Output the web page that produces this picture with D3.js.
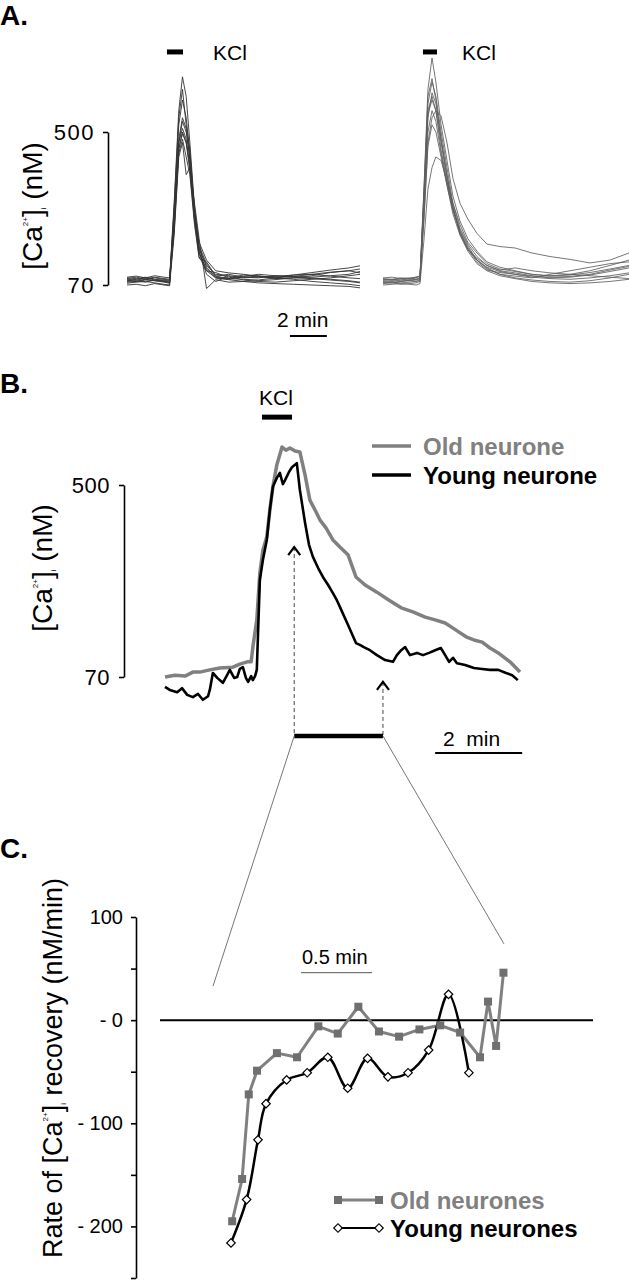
<!DOCTYPE html>
<html><head><meta charset="utf-8">
<script src="https://cdn.jsdelivr.net/npm/d3@7"></script>
<style>body{margin:0;background:#fff}svg{display:block}</style>
</head><body>
<svg id="fig" width="629" height="1280"></svg>
<script>
// ---------------- DATA ----------------
// Panel A: individual neurone traces ([Ca2+]i, nM) vs time (min)
const tA_left = [0, 0.5, 1, 1.5, 2, 2.3, 2.55, 2.8, 3.0, 3.2, 3.4, 3.65, 3.9, 4.3, 4.8, 5.5, 6.3, 7.1, 8, 9, 10, 11, 12, 12.6];
const tracesA_left = [
  [88, 92, 85, 90, 86, 84, 300, 560, 655, 600, 470, 290, 180, 130, 95, 100, 92, 95, 88, 90, 96, 105, 110, 115],
  [82, 86, 90, 84, 80, 82, 280, 520, 590, 540, 440, 280, 170, 125, 100, 96, 90, 92, 94, 98, 100, 95, 90, 88],
  [78, 80, 84, 82, 78, 75, 260, 480, 540, 510, 420, 260, 160, 110, 105, 90, 98, 96, 90, 86, 80, 76, 72, 68],
  [92, 95, 90, 96, 92, 90, 240, 470, 510, 480, 400, 270, 190, 140, 110, 104, 100, 94, 90, 98, 105, 112, 118, 124],
  [75, 78, 80, 76, 72, 70, 230, 450, 500, 470, 390, 250, 150, 110, 90, 85, 80, 82, 85, 90, 88, 84, 80, 76],
  [86, 84, 88, 92, 88, 86, 220, 440, 480, 430, 380, 240, 145, 135, 95, 88, 92, 90, 96, 92, 90, 86, 82, 78],
  [70, 72, 68, 74, 70, 68, 210, 430, 470, 380, 400, 300, 200, 60, 85, 78, 80, 76, 74, 72, 70, 68, 66, 62],
  [90, 88, 92, 86, 84, 80, 250, 470, 530, 500, 430, 270, 175, 120, 92, 88, 86, 84, 90, 94, 100, 106, 110, 104],
  [80, 82, 78, 84, 82, 78, 235, 455, 495, 470, 410, 255, 165, 100, 80, 95, 84, 80, 78, 82, 86, 90, 96, 100],
  [84, 80, 86, 82, 80, 76, 290, 540, 620, 520, 450, 280, 160, 115, 90, 86, 94, 100, 96, 94, 92, 96, 100, 108]
];
const tA_right = [0, 0.49, 0.97, 1.46, 1.78, 2.0, 2.22, 2.43, 2.65, 2.86, 3.14, 3.46, 3.78, 4.16, 4.59, 5.08, 5.62, 6.32, 7.14, 8.05, 9.03, 10.11, 11.19, 12.27, 13.3];
const tracesA_right = [
  [86, 84, 88, 86, 90, 95, 350, 620, 708, 640, 520, 420, 320, 250, 200, 165, 135, 120, 110, 100, 95, 98, 105, 115, 125],
  [80, 82, 80, 84, 86, 90, 330, 580, 640, 600, 500, 400, 300, 230, 185, 150, 125, 110, 104, 96, 90, 92, 98, 108, 118],
  [78, 76, 80, 82, 80, 85, 300, 540, 610, 580, 480, 380, 290, 220, 175, 140, 120, 108, 100, 92, 88, 86, 90, 96, 104],
  [90, 92, 88, 90, 92, 95, 260, 470, 540, 560, 545, 470, 370, 300, 255, 215, 185, 178, 174, 160, 150, 142, 132, 140, 160],
  [74, 76, 72, 74, 76, 80, 310, 550, 590, 560, 450, 360, 280, 215, 170, 140, 118, 100, 90, 84, 80, 78, 82, 90, 100],
  [70, 72, 74, 72, 70, 74, 200, 340, 400, 430, 420, 360, 300, 240, 190, 160, 130, 115, 108, 100, 96, 100, 110, 125, 140],
  [84, 86, 84, 88, 86, 88, 290, 500, 560, 530, 440, 350, 270, 210, 165, 130, 110, 96, 88, 80, 76, 74, 76, 80, 86],
  [88, 86, 90, 88, 92, 94, 320, 560, 600, 560, 470, 370, 285, 220, 170, 145, 125, 112, 118, 110, 104, 100, 96, 92, 88],
  [76, 78, 76, 78, 80, 82, 260, 460, 520, 500, 430, 350, 280, 225, 180, 140, 115, 100, 95, 90, 100, 110, 120, 130, 135],
  [82, 80, 84, 82, 84, 88, 340, 600, 650, 590, 480, 380, 290, 215, 170, 135, 112, 105, 100, 95, 92, 94, 100, 112, 122]
];
const yTicksA = [70, 500];
const kclA_left = [2.16, 3.03], kclA_right = [2.16, 2.92], kclA_level = 725;
const scaleBarA = [8.81, 10.81], scaleBarA_level = -73;

// Panel B: representative old and young neurone
const tB_old = [0, 0.23, 0.46, 0.64, 0.80, 1.03, 1.26, 1.56, 1.72, 1.89, 1.98, 2.02, 2.11, 2.18, 2.25, 2.34, 2.41, 2.48, 2.57, 2.69, 2.78, 2.87, 2.99, 3.10, 3.22, 3.33, 3.47, 3.56, 3.70, 3.86, 4.02, 4.21, 4.39, 4.60, 4.87, 5.15, 5.43, 5.70, 5.98, 6.21, 6.44, 6.69, 6.92, 7.10, 7.29, 7.47, 7.66, 7.93, 8.16];
const caB_old = [70, 74, 72, 81, 81, 86, 90, 92, 99, 104, 104, 137, 198, 303, 354, 384, 444, 496, 545, 585, 578, 583, 576, 574, 522, 466, 440, 422, 404, 377, 361, 343, 294, 276, 260, 242, 225, 216, 204, 198, 191, 175, 160, 153, 148, 135, 124, 104, 81];
const tB_young = [0, 0.11, 0.28, 0.39, 0.51, 0.64, 0.76, 0.87, 0.99, 1.03, 1.10, 1.20, 1.33, 1.43, 1.49, 1.59, 1.66, 1.72, 1.79, 1.86, 1.91, 1.98, 2.02, 2.07, 2.11, 2.18, 2.25, 2.34, 2.41, 2.48, 2.57, 2.64, 2.71, 2.76, 2.85, 2.92, 3.03, 3.10, 3.22, 3.31, 3.40, 3.52, 3.63, 3.75, 3.86, 3.95, 4.02, 4.21, 4.39, 4.48, 4.57, 4.71, 4.87, 5.06, 5.24, 5.33, 5.43, 5.52, 5.63, 5.79, 5.93, 6.07, 6.21, 6.34, 6.44, 6.53, 6.62, 6.71, 6.90, 7.10, 7.29, 7.47, 7.66, 7.84, 7.98, 8.11];
const caB_young = [48, 41, 36, 45, 30, 25, 32, 19, 27, 41, 79, 68, 57, 75, 86, 68, 70, 88, 92, 68, 59, 72, 63, 72, 86, 287, 332, 377, 444, 496, 516, 527, 502, 511, 529, 540, 549, 489, 415, 366, 339, 314, 294, 276, 258, 242, 227, 186, 146, 142, 137, 130, 119, 108, 104, 119, 130, 137, 119, 124, 119, 124, 130, 135, 119, 104, 113, 101, 97, 90, 88, 86, 86, 79, 74, 63];
const yTicksB = [70, 500];
const kclB = [2.23, 2.92], kclB_level = 652;
const arrowTimesB = [2.97, 5.01], arrowLevelsB = [361, 59];
const recoveryBarB = [2.97, 5.01], recoveryBarLevel = -62;
const scaleBarB = [6.21, 8.21], scaleBarB_level = -100;

// Panel C: rate of recovery (nM/min) vs time (s)
const tC_old = [0.5, 4.7, 7.5, 11.0, 19.4, 27.9, 36.9, 45.1, 53.8, 62.5, 71.0, 79.6, 88.4, 96.8, 105.2, 108.6, 112.0, 115.1];
const rateC_old = [-195, -154, -72, -49, -32, -36, -6, -13, 13, -11, -16, -9, -5, -12, -36, 18, -25, 46];
const tC_young = [0, 6.6, 11.4, 14.8, 23.5, 32.2, 40.9, 49.3, 57.7, 66.3, 74.8, 83.5, 91.9, 100.5];
const rateC_young = [-216, -174, -116, -81, -58, -51, -36, -66, -37, -55, -51, -29, 25, -51];
const yTicksC = [100, 50, 0, -50, -100, -150, -200, -250];
const scaleBarC = [29.6, 59.6], scaleBarC_level = 46;
const zoomTargetsC = [[-7.6, 33], [115.3, 74]];

// ---------------- DRAWING ----------------
const FONT = "'Liberation Sans', Arial, Helvetica, sans-serif";
const svg = d3.select("#fig").style("font-family", FONT);
svg.append("rect").attr("width", 629).attr("height", 1280).attr("fill", "#fff");

const GRAY = "#808080";

function caTitle(x, y, fs, after, prefix) {
  const t = svg.append("text")
    .attr("transform", `translate(${x},${y}) rotate(-90)`)
    .attr("text-anchor", "middle")
    .attr("font-size", fs).attr("fill", "#000");
  t.append("tspan").text((prefix || "") + "[Ca");
  t.append("tspan").attr("font-size", 8).attr("dy", -14).text("2+");
  t.append("tspan").attr("dy", 14).text("]");
  t.append("tspan").attr("font-size", 8).attr("dy", 4).text("i");
  t.append("tspan").attr("dy", -4).text(after);
}

function label(x, y, txt, fs, opts = {}) {
  return svg.append("text").attr("x", x).attr("y", y)
    .attr("font-size", fs).attr("font-weight", opts.bold ? "bold" : "normal")
    .attr("fill", opts.fill || "#000").attr("text-anchor", opts.anchor || "start")
    .text(txt);
}

function styleAxis(g, fs, ls) {
  g.select(".domain").attr("stroke", "#000").attr("stroke-width", 1.6);
  g.selectAll(".tick line").attr("stroke", "#000").attr("stroke-width", 1.6);
  g.selectAll(".tick text").attr("font-size", fs).attr("font-family", FONT).attr("fill", "#000")
    .attr("letter-spacing", ls || 0);
}

// ===== Panel A =====
label(0, 25, "A.", 28, { bold: true });
const xAL = d3.scaleLinear([0, 12.6], [127, 360]);
const xAR = d3.scaleLinear([0, 13.3], [383, 629]);
const yA = d3.scaleLinear([70, 500], [285, 132]);

const gAy = svg.append("g").attr("transform", `translate(108,0)`)
  .call(d3.axisLeft(yA).tickValues(yTicksA).tickSize(5).tickSizeOuter(0).tickPadding(8));
styleAxis(gAy, 22, 1.5);
caTitle(42, 206, 28, " (nM)");

const lineAL = d3.line().x((d, i) => xAL(tA_left[i])).y(d => yA(d)).curve(d3.curveLinear);
const lineAR = d3.line().x((d, i) => xAR(tA_right[i])).y(d => yA(d)).curve(d3.curveLinear);
svg.append("g").selectAll("path").data(tracesA_left).join("path")
  .attr("d", lineAL).attr("fill", "none").attr("stroke", "#333").attr("stroke-width", 0.9);
svg.append("g").selectAll("path").data(tracesA_right).join("path")
  .attr("d", lineAR).attr("fill", "none").attr("stroke", "#5e5e5e").attr("stroke-width", 0.85);

// KCl bars
svg.append("line").attr("x1", xAL(kclA_left[0])).attr("x2", xAL(kclA_left[1]))
  .attr("y1", yA(kclA_level)).attr("y2", yA(kclA_level)).attr("stroke", "#000").attr("stroke-width", 5);
svg.append("line").attr("x1", xAR(kclA_right[0])).attr("x2", xAR(kclA_right[1]))
  .attr("y1", yA(kclA_level)).attr("y2", yA(kclA_level)).attr("stroke", "#000").attr("stroke-width", 5);
label(213, 59.5, "KCl", 21);
label(462, 59.5, "KCl", 21);
// 2 min scale
svg.append("line").attr("x1", xAL(scaleBarA[0])).attr("x2", xAL(scaleBarA[1]))
  .attr("y1", yA(scaleBarA_level)).attr("y2", yA(scaleBarA_level)).attr("stroke", "#000").attr("stroke-width", 2);
label(277, 327, "2 min", 21);

// ===== Panel B =====
label(0, 393, "B.", 28, { bold: true });
const xB = d3.scaleLinear([0, 8.16], [165, 520]);
const yB = d3.scaleLinear([70, 500], [677, 485]);
const gBy = svg.append("g").attr("transform", `translate(124,0)`)
  .call(d3.axisLeft(yB).tickValues(yTicksB).tickSize(5).tickSizeOuter(0).tickPadding(9));
styleAxis(gBy, 22, 0.5);
caTitle(52, 568, 28, " (nM)");

const lineBold = d3.line().x((d, i) => xB(tB_old[i])).y(d => yB(d));
const lineByoung = d3.line().x((d, i) => xB(tB_young[i])).y(d => yB(d));
svg.append("path").datum(caB_old).attr("d", lineBold).attr("fill", "none")
  .attr("stroke", GRAY).attr("stroke-width", 3.5).attr("stroke-linejoin", "round");
svg.append("path").datum(caB_young).attr("d", lineByoung).attr("fill", "none")
  .attr("stroke", "#000").attr("stroke-width", 2.6).attr("stroke-linejoin", "round");

// KCl
svg.append("line").attr("x1", xB(kclB[0])).attr("x2", xB(kclB[1]))
  .attr("y1", yB(kclB_level)).attr("y2", yB(kclB_level)).attr("stroke", "#000").attr("stroke-width", 5);
label(259, 405, "KCl", 21);

// Legend B
svg.append("line").attr("x1", 372).attr("x2", 411).attr("y1", 446).attr("y2", 446).attr("stroke", GRAY).attr("stroke-width", 3.5);
svg.append("line").attr("x1", 372).attr("x2", 411).attr("y1", 475).attr("y2", 475).attr("stroke", "#000").attr("stroke-width", 3.5);
label(423, 454.5, "Old neurone", 24, { bold: true, fill: GRAY });
label(423, 483.5, "Young neurone", 24, { bold: true });

// arrows + dashed lines
arrowTimesB.forEach((t, i) => {
  const x = xB(t), yTop = yB(arrowLevelsB[i]), yBot = yB(recoveryBarLevel);
  svg.append("line").attr("x1", x).attr("x2", x).attr("y1", yTop).attr("y2", yBot)
    .attr("stroke", "#444").attr("stroke-width", 1).attr("stroke-dasharray", "4,3");
  svg.append("path").attr("d", `M${x - 6},${yTop + 8}L${x},${yTop}L${x + 6},${yTop + 8}`)
    .attr("fill", "none").attr("stroke", "#000").attr("stroke-width", 2.2);
});
svg.append("line").attr("x1", xB(recoveryBarB[0])).attr("x2", xB(recoveryBarB[1]))
  .attr("y1", yB(recoveryBarLevel)).attr("y2", yB(recoveryBarLevel)).attr("stroke", "#000").attr("stroke-width", 4.5);
// 2 min scale B
svg.append("line").attr("x1", xB(scaleBarB[0])).attr("x2", xB(scaleBarB[1]))
  .attr("y1", yB(scaleBarB_level)).attr("y2", yB(scaleBarB_level)).attr("stroke", "#000").attr("stroke-width", 2);
label(443, 745.5, "2  min", 21).style("white-space", "pre");

// ===== Panel C =====
label(0, 858, "C.", 28, { bold: true });
const xC = d3.scaleLinear([0, 115], [231, 503.2]);
const yC = d3.scaleLinear([-250, 100], [1278, 917]);

// zoom connector lines
const connL = [[xB(recoveryBarB[0]), yB(recoveryBarLevel)], [xC(zoomTargetsC[0][0]), yC(zoomTargetsC[0][1])]];
const connR = [[xB(recoveryBarB[1]), yB(recoveryBarLevel)], [xC(zoomTargetsC[1][0]), yC(zoomTargetsC[1][1])]];
[connL, connR].forEach(c => svg.append("line")
  .attr("x1", c[0][0]).attr("y1", c[0][1]).attr("x2", c[1][0]).attr("y2", c[1][1])
  .attr("stroke", "#666").attr("stroke-width", 0.9));

const gCy = svg.append("g").attr("transform", `translate(136,0)`)
  .call(d3.axisLeft(yC).tickValues(yTicksC).tickSize(5).tickSizeOuter(0).tickPadding(8)
    .tickFormat(d => d === 100 ? "100" : (d % 100 === 0 ? "- " + Math.abs(d) : "")));
styleAxis(gCy, 20);
caTitle(62, 1068, 27, " recovery (nM/min)", "Rate of ");

// zero line
svg.append("line").attr("x1", 160).attr("x2", 593).attr("y1", yC(0)).attr("y2", yC(0))
  .attr("stroke", "#000").attr("stroke-width", 2);

// scale bar 0.5 min
svg.append("line").attr("x1", xC(scaleBarC[0])).attr("x2", xC(scaleBarC[1]))
  .attr("y1", yC(scaleBarC_level)).attr("y2", yC(scaleBarC_level)).attr("stroke", "#555").attr("stroke-width", 1);
label(302, 964, "0.5 min", 20);

// series
const lineCold = d3.line().x((d, i) => xC(tC_old[i])).y(d => yC(d)).curve(d3.curveLinear);
const lineCyoung = d3.line().x((d, i) => xC(tC_young[i])).y(d => yC(d)).curve(d3.curveCatmullRom.alpha(0.5));
svg.append("path").datum(rateC_old).attr("d", lineCold).attr("fill", "none")
  .attr("stroke", GRAY).attr("stroke-width", 3).attr("stroke-linejoin", "round");
svg.append("path").datum(rateC_young).attr("d", lineCyoung).attr("fill", "none")
  .attr("stroke", "#000").attr("stroke-width", 2.5);
svg.append("g").selectAll("rect").data(rateC_old).join("rect")
  .attr("x", (d, i) => xC(tC_old[i]) - 4).attr("y", d => yC(d) - 4)
  .attr("width", 8).attr("height", 8).attr("fill", "#6f6f6f");
svg.append("g").selectAll("path").data(rateC_young).join("path")
  .attr("transform", (d, i) => `translate(${xC(tC_young[i])},${yC(d)}) rotate(45)`)
  .attr("d", d3.symbol().type(d3.symbolSquare).size(36))
  .attr("fill", "#fff").attr("stroke", "#000").attr("stroke-width", 1.2);

// legend C
svg.append("line").attr("x1", 338).attr("x2", 379).attr("y1", 1200).attr("y2", 1200).attr("stroke", GRAY).attr("stroke-width", 3);
[338, 379].forEach(x => svg.append("rect").attr("x", x - 4).attr("y", 1196).attr("width", 8).attr("height", 8).attr("fill", "#6f6f6f"));
svg.append("line").attr("x1", 338).attr("x2", 379).attr("y1", 1228).attr("y2", 1228).attr("stroke", "#000").attr("stroke-width", 2);
[338, 379].forEach(x => svg.append("path").attr("transform", `translate(${x},1228) rotate(45)`)
  .attr("d", d3.symbol().type(d3.symbolSquare).size(36)).attr("fill", "#fff").attr("stroke", "#000").attr("stroke-width", 1.2));
label(390, 1208.5, "Old neurones", 24, { bold: true, fill: GRAY });
label(390, 1236.5, "Young neurones", 24, { bold: true });
</script>
</body></html>
